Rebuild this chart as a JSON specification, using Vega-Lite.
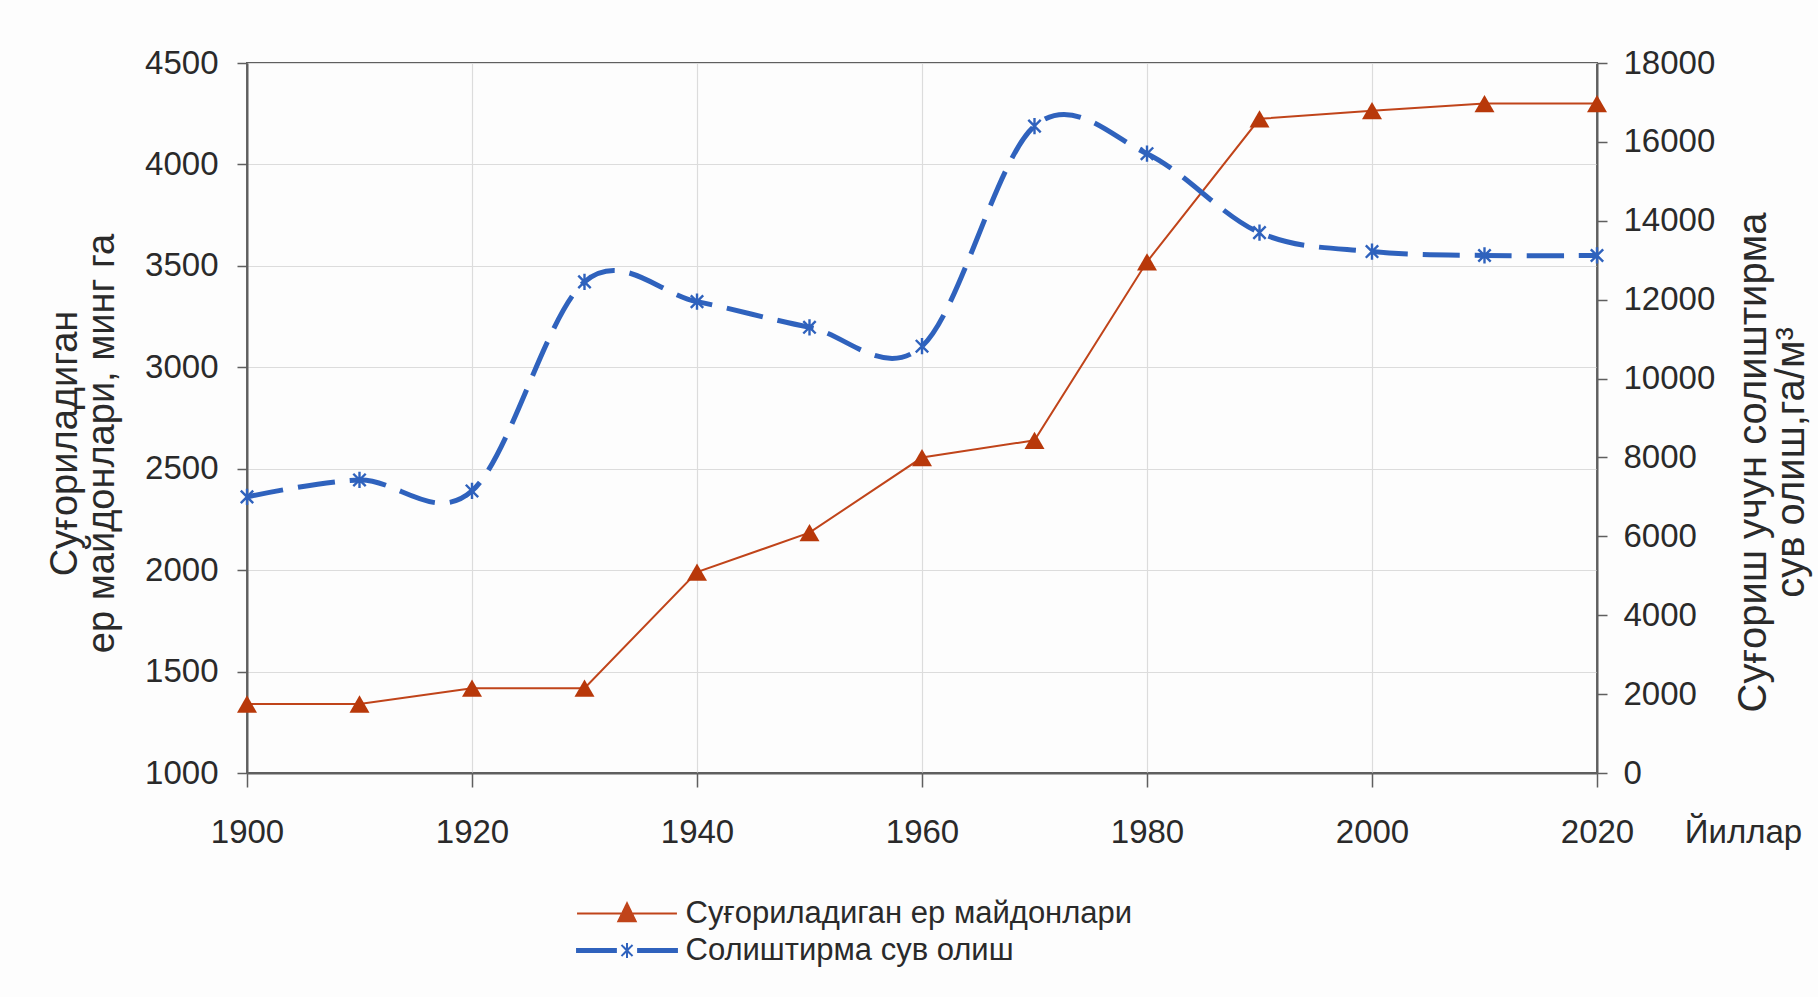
{
  "$schema": "https://vega.github.io/schema/vega-lite/v6.json",
  "autosize": {"type": "none"},
  "padding": {"left": 247, "top": 63, "right": 221, "bottom": 224},
  "width": 1350,
  "height": 710,
  "background": "#fdfdfd",
  "data": {
    "values": [
      {"year": 1900, "area": 1340, "water": 7000},
      {"year": 1910, "area": 1340, "water": 7430},
      {"year": 1920, "area": 1418, "water": 7150},
      {"year": 1930, "area": 1418, "water": 12450},
      {"year": 1940, "area": 1990, "water": 11950},
      {"year": 1950, "area": 2185, "water": 11300},
      {"year": 1960, "area": 2555, "water": 10820},
      {"year": 1970, "area": 2640, "water": 16400},
      {"year": 1980, "area": 3520, "water": 15700},
      {"year": 1990, "area": 4225, "water": 13700},
      {"year": 2000, "area": 4265, "water": 13220},
      {"year": 2010, "area": 4300, "water": 13120},
      {"year": 2020, "area": 4300, "water": 13120}
    ]
  },
  "config": {
    "font": "Liberation Sans",
    "view": {"stroke": "#5f5f5f", "strokeWidth": 2},
    "axis": {
      "labelFont": "Liberation Sans",
      "labelFontSize": 33,
      "labelColor": "#2a2a2a",
      "titleFont": "Liberation Sans",
      "titleFontSize": 38,
      "titleFontWeight": "normal",
      "titleColor": "#2a2a2a",
      "domainColor": "#5f5f5f",
      "domainWidth": 2,
      "tickColor": "#5f5f5f",
      "tickWidth": 1.5,
      "gridColor": "#dcdcdc",
      "gridWidth": 1.2,
      "labelFlush": false,
      "labelOverlap": false
    },
    "legend": {
      "labelFont": "Liberation Sans",
      "labelFontSize": 31,
      "labelColor": "#2a2a2a",
      "labelLimit": 800
    }
  },
  "encoding": {
    "x": {
      "field": "year",
      "type": "quantitative",
      "scale": {"domain": [1900, 2020], "nice": false, "zero": false},
      "axis": {
        "values": [1900, 1920, 1940, 1960, 1980, 2000, 2020],
        "format": "d",
        "grid": true,
        "tickSize": 14,
        "labelPadding": 29,
        "title": "Йиллар",
        "titleX": 1496,
        "titleY": 59,
        "titleAlign": "center",
        "titleBaseline": "middle",
        "titleAngle": 0,
        "titleFontSize": 33
      }
    }
  },
  "layer": [
    {
      "encoding": {
        "y": {
          "field": "area",
          "type": "quantitative",
          "scale": {"domain": [1000, 4500], "nice": false, "zero": false},
          "axis": {
            "orient": "left",
            "values": [1000, 1500, 2000, 2500, 3000, 3500, 4000, 4500],
            "format": "d",
            "grid": true,
            "tickSize": 10,
            "labelPadding": 19,
            "title": ["Суғориладиган", "ер майдонлари, минг га"],
            "titleX": -182,
            "titleY": 380,
            "titleAngle": 270,
            "titleAlign": "center",
            "titleBaseline": "middle",
            "titleLineHeight": 37
          }
        }
      },
      "layer": [
        {
          "mark": {"type": "line", "strokeWidth": 2},
          "encoding": {
            "color": {
              "datum": "Суғориладиган ер майдонлари",
              "scale": {
                "domain": ["Суғориладиган ер майдонлари", "Солиштирма сув олиш"],
                "range": ["#c0441a", "#2f62bd"]
              },
              "legend": {
                "title": null,
                "orient": "none",
                "legendX": 329,
                "legendY": 832,
                "padding": 0,
                "symbolSize": 1369,
                "symbolOffset": 31.5,
                "labelOffset": 39,
                "clipHeight": 37,
                "rowPadding": 0,
                "symbolStrokeWidth": 2,
                "encode": {
                  "symbols": {
                    "update": {
                      "shape": {"signal": "datum.value === 'Солиштирма сув олиш' ? 'M-2.7,-0.08L-0.6,-0.08L-0.6,0.08L-2.7,0.08ZM0.6,-0.08L2.7,-0.08L2.7,0.08L0.6,0.08ZM-0.3,-0.3L0.3,0.3M-0.3,0.3L0.3,-0.3M0,-0.4L0,0.4' : 'M-2.7,0L2.7,0M0,-0.55L0.47,0.42L-0.47,0.42Z'"},
                      "fill": {"scale": "color", "field": "value"},
                      "stroke": {"scale": "color", "field": "value"},
                      "strokeWidth": {"value": 2},
                      "strokeDash": {"value": [1, 0]},
                      "opacity": {"value": 1},
                      "fillOpacity": {"value": 1}
                    }
                  }
                }
              }
            }
          }
        },
        {
          "mark": {"type": "point", "shape": "triangle-up", "filled": true, "size": 400, "color": "#b8380a", "opacity": 1}
        }
      ]
    },
    {
      "encoding": {
        "y": {
          "field": "water",
          "type": "quantitative",
          "scale": {"domain": [0, 18000], "nice": false},
          "axis": {
            "orient": "right",
            "values": [0, 2000, 4000, 6000, 8000, 10000, 12000, 14000, 16000, 18000],
            "format": "d",
            "grid": false,
            "tickSize": 10,
            "labelPadding": 16,
            "title": ["Суғориш учун солиштирма", "сув олиш,га/м³"],
            "titleX": 156,
            "titleY": 399,
            "titleAngle": 270,
            "titleFontSize": 40,
            "titleAlign": "center",
            "titleBaseline": "middle",
            "titleLineHeight": 38,
            "encode": {
              "ticks": {"update": {"x": {"value": -10}, "x2": {"value": 10}}}
            }
          }
        }
      },
      "layer": [
        {
          "mark": {"type": "line", "strokeWidth": 5, "strokeDash": [37, 15], "interpolate": "cardinal"},
          "encoding": {
            "color": {"datum": "Солиштирма сув олиш"}
          }
        },
        {
          "mark": {"type": "point", "shape": "M-0.8,-0.8L0.8,0.8M-0.8,0.8L0.8,-0.8M0,-1.05L0,1.05", "filled": false, "size": 240, "strokeWidth": 2.4, "color": "#2f62bd", "opacity": 1}
        }
      ]
    }
  ],
  "resolve": {"scale": {"y": "independent"}, "axis": {"y": "independent"}}
}
